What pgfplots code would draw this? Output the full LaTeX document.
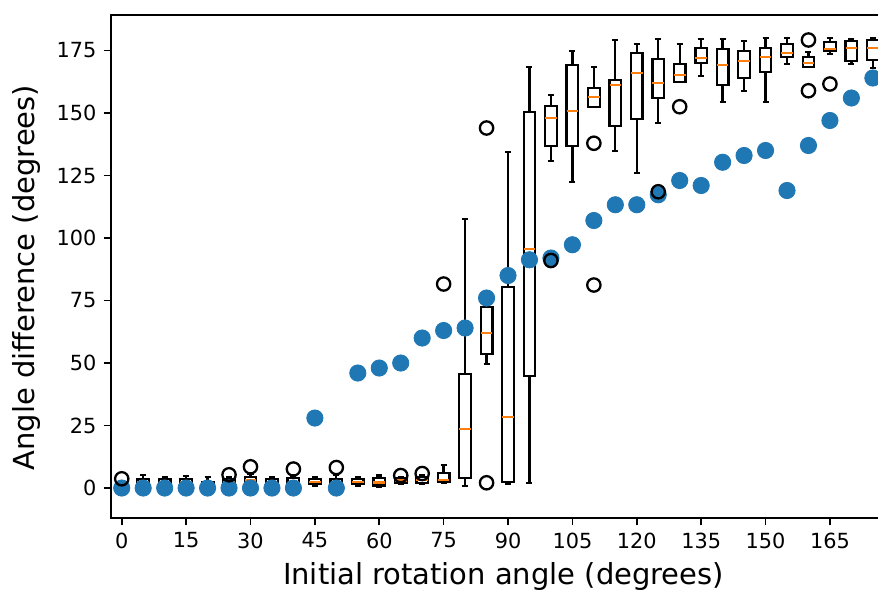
\documentclass[border=0pt]{standalone}
\usepackage{fontspec}
\setmainfont{DejaVu Sans}
\usepackage{pgfplots}
\pgfplotsset{compat=1.18}
\usepgfplotslibrary{statistics}
\usetikzlibrary{calc}

\definecolor{mplblue}{HTML}{1F77B4}
\definecolor{mplorange}{HTML}{FF7F0E}

\pgfplotsset{
  bx/.style={black, line width=1.1pt, solid,
    mark=o, mark size=3.2pt, mark options={solid, black, line width=1.1pt},
    boxplot/draw direction=y,
    boxplot/box extend=2.7, boxplot/whisker extend=1.4,
    boxplot/every box/.style={draw=black, line width=1.1pt},
    boxplot/every whisker/.style={draw=black, line width=1.1pt},
    boxplot/every median/.style={draw=mplorange, line width=1.1pt}},
}
% pos, lower whisker, q1, median, q3, upper whisker, fliers
\newcommand{\bp}[7]{\addplot[bx, boxplot prepared={draw position=#1,
  lower whisker=#2, lower quartile=#3, median=#4,
  upper quartile=#5, upper whisker=#6}] coordinates {#7};}

\begin{document}
\begin{tikzpicture}
  \begin{axis}[
    name=ax,
    scale only axis,
    width=370.8pt, height=241.44pt,
    xmin=-2.5, xmax=177.5,
    ymin=-12, ymax=189.2,
    xtick={0,15,...,165},
    ytick={0,25,...,175},
    tick pos=left,
    tick align=outside,
    major tick length=3.5pt,
    tick style={black, line width=0.8pt},
    axis line style={line width=0.8pt},
    ticklabel style={font=\fontsize{10}{12}\selectfont},
    /pgf/number format/assume math mode=true,
    xlabel={Initial rotation angle (degrees)},
    ylabel={Angle difference (degrees)},
    every axis x label/.style={at={(axis description cs:0.508,-0.1313)},
      anchor=base, font=\fontsize{13.9}{16}\selectfont},
    every axis y label/.style={at={(axis description cs:-0.0984,0.478)},
      rotate=90, anchor=base, font=\fontsize{13.9}{16}\selectfont},
  ]
    \addplot[only marks, mark=*, mark size=3.9pt,
      mark options={draw=mplblue, fill=mplblue}] coordinates {
      (0,0) (5,0) (10,0) (15,0) (20,0) (25,0) (30,0) (35,0) (40,0)
      (45,28) (50,0) (55,46) (60,48) (65,50) (70,60) (75,63) (80,64)
      (85,76) (90,85) (95,91.3) (100,92) (105,97.3) (110,107) (115,113.3)
      (120,113.3) (125,117.3) (130,123) (135,121) (140,130.3) (145,133)
      (150,135) (155,119) (160,137) (165,147) (170,156) (175,164)
    };
    \bp{0}{0}{0}{0.5}{1.5}{2.5}{(0,3.7)}
    \bp{5}{0}{1}{2.3}{3.5}{5.2}{}
    \bp{10}{0.5}{1.5}{2.5}{3.5}{4.5}{}
    \bp{15}{0}{1}{2.3}{3.5}{4.8}{}
    \bp{20}{0}{0.5}{1.7}{2.5}{4.5}{}
    \bp{25}{0}{1}{2.2}{3.5}{4.5}{(25,5.3)}
    \bp{30}{0.5}{2}{3}{4.5}{5.5}{(30,8.5)}
    \bp{35}{0}{0.8}{2}{3.5}{4.5}{}
    \bp{40}{0.5}{1.5}{2.5}{4}{5}{(40,7.6)}
    \bp{45}{1}{1.5}{2.5}{3.5}{4.5}{}
    \bp{50}{0}{0.5}{1.9}{3.5}{5.2}{(50,8.2)}
    \bp{55}{1}{1.5}{2.5}{3.5}{4.5}{}
    \bp{60}{0.5}{1}{2.2}{4}{5}{}
    \bp{65}{1.5}{2}{3}{4}{4.5}{(65,5)}
    \bp{70}{1.5}{2}{3.2}{4.5}{5}{(70,5.8)}
    \bp{75}{1.9}{2.5}{3.2}{5.9}{9.2}{(75,81.6)}
    \bp{80}{0.8}{3.9}{23.7}{45.7}{107.5}{}
    \bp{85}{49.5}{53.6}{61.9}{72.5}{75.7}{(85,2.1) (85,144)}
    \bp{90}{1.6}{2.5}{28.3}{80.5}{134.4}{}
    \bp{95}{2.1}{44.8}{95.5}{150.5}{168.5}{}
    \bp{100}{130.9}{136.9}{148.1}{152.9}{157.1}{(100,91)}
    \bp{105}{122.4}{136.8}{150.7}{169.2}{174.8}{}
    \bp{110}{152.3}{152.3}{156.5}{159.9}{168.3}{(110,137.9) (110,81.2)}
    \bp{115}{134.7}{144.8}{161.3}{163.2}{179.2}{}
    \bp{120}{126.1}{147.5}{165.9}{174.1}{177.6}{}
    \bp{125}{145.9}{155.9}{162.1}{171.5}{179.5}{(125,118.5)}
    \bp{130}{162.5}{162.5}{165.2}{169.6}{177.5}{(130,152.5)}
    \bp{135}{164.8}{169.9}{172}{175.9}{179.5}{}
    \bp{140}{154.3}{161.2}{169.2}{175.5}{179.7}{}
    \bp{145}{158.8}{164.1}{170.9}{174.9}{178.9}{}
    \bp{150}{154.5}{166.5}{172.5}{175.9}{179.9}{}
    \bp{155}{169.5}{172.5}{174.1}{177.5}{179.9}{}
    \bp{160}{168.3}{168.5}{170.1}{172.5}{174.5}{(160,179.2) (160,158.9)}
    \bp{165}{173.5}{174.9}{175.7}{178.5}{179.9}{(165,161.6)}
    \bp{170}{169.5}{170.8}{176.1}{178.9}{179.5}{}
    \bp{175}{167.9}{171.2}{176.1}{179.2}{179.9}{}
    \coordinate (R) at (axis cs:176.2,0);
  \end{axis}
  \pgfresetboundingbox
  \path[use as bounding box] ($(ax.south west)+(-53.28pt,-36.96pt)$)
    rectangle ($(R |- ax.north east)+(0pt,7.2pt)$);
\end{tikzpicture}
\end{document}
